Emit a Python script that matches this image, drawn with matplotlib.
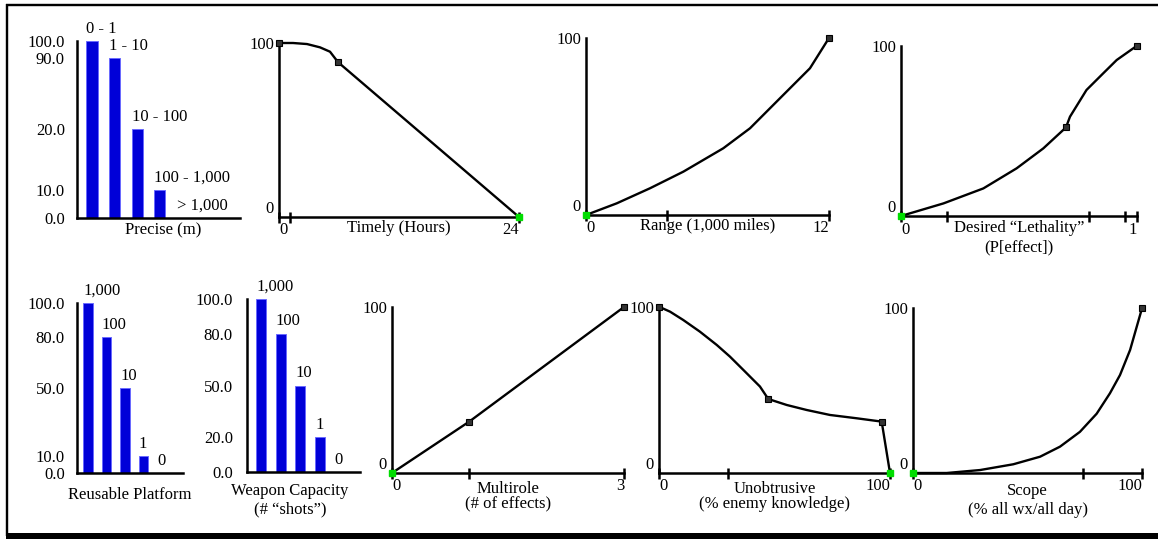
import numpy as np
import matplotlib.pyplot as plt
from matplotlib.lines import Line2D

plt.rcParams['font.family'] = ['Liberation Serif', 'DejaVu Serif']
plt.rcParams['font.size'] = 12

W, H = 1158, 539
PX = 0.72  # points per pixel at dpi 100

# ---------------- data ----------------
precise_cats = ['0 - 1', '1 - 10', '10 - 100', '100 - 1,000', '> 1,000']
precise_vals = [100, 90, 20, 10, 0]

reusable_cats = ['1,000', '100', '10', '1', '0']
reusable_vals = [100, 80, 50, 10, 0]

capacity_cats = ['1,000', '100', '10', '1', '0']
capacity_vals = [100, 80, 50, 20, 0]

timely_x = [0, 1.4, 2.8, 4.1, 5.1, 5.9, 24]
timely_y = [100, 100, 99.4, 97.5, 95, 89, 0]

range_x = [0, 1.52, 3.16, 4.81, 6.78, 8.1, 9.74, 11.06, 12]
range_y = [0, 6.6, 15.1, 24.5, 37.7, 49, 67.8, 82.9, 100]

lethal_x = [0, 0.18, 0.349, 0.49, 0.603, 0.699, 0.716, 0.786, 0.857, 0.914, 1.0]
lethal_y = [0, 7.4, 16.2, 28, 39.7, 52, 58.3, 74, 83.8, 91.6, 100]

multi_x = [0, 1, 3]
multi_y = [0, 31, 100]

unob_x = [0, 4.8, 10.5, 17.7, 25, 30.7, 36.5, 43.7, 47.3, 55.3, 63.9, 74, 85.6, 96.4, 100]
unob_y = [100, 97, 92, 85, 77, 70, 62, 52, 44.5, 40.9, 37.9, 34.9, 32.9, 30.9, 0]

scope_x = [0, 14.7, 29.3, 43.8, 55.5, 64.2, 72.9, 80.2, 86, 90.4, 94.8, 100]
scope_y = [0, 0, 1.8, 5.3, 9.9, 16, 25, 36, 48.4, 59.5, 74.7, 100]

BLUE = '#0000d8'
GREEN = '#00dd00'
LW = 1.8

fig = plt.figure(figsize=(W / 100, H / 100), dpi=100)


def px_axes(x0, x1, ytop, ybot):
    ax = fig.add_axes([x0 / W, 1 - ybot / H, (x1 - x0) / W, (ybot - ytop) / H])
    ax.patch.set_visible(False)
    for s in ['top', 'right']:
        ax.spines[s].set_visible(False)
    for s in ['left', 'bottom']:
        ax.spines[s].set_linewidth(LW)
    return ax


def xlabel_lines(ax, lines, xfrac, first_dy, gap):
    for i, txt in enumerate(lines):
        ax.annotate(txt, xy=(xfrac, 0), xycoords='axes fraction',
                    xytext=(0, -(first_dy + i * gap) * PX), textcoords='offset points',
                    ha='center', va='top')


def bar_panel(box, cats, vals, xlim, width, label_dy, lines, xfrac, first_dy, gap, ypad, scale=None):
    ax = px_axes(*box)
    if scale is not None:
        ax.set_yscale('function', functions=scale)
    x = np.arange(len(cats))
    ax.bar(x, vals, width, color=BLUE, edgecolor='#6a6aff', linewidth=0.7)
    for xi, v, c in zip(x, vals, cats):
        ax.annotate(c, (xi - width / 2, v), xytext=(0, label_dy), textcoords='offset points',
                    ha='left', va='bottom')
    ax.set_xlim(*xlim)
    ax.set_ylim(0, 100)
    ax.set_xticks([])
    ax.set_yticks(vals, [f'{v:.1f}' for v in vals])
    ax.tick_params(axis='y', length=0, pad=ypad * PX)
    xlabel_lines(ax, lines, xfrac, first_dy, gap)
    return ax


def line_panel(box, xs, ys, black, green, xmax, ticks, end_label, lines, first_dy, gap):
    ax = px_axes(*box)
    xs = np.array(xs)
    ys = np.array(ys)
    ax.plot(xs, ys, color='black', lw=1.7, clip_on=False, zorder=3)
    ax.plot(xs[black], ys[black], 's', ms=4, mfc='#333333', mec='black', mew=0.8,
            clip_on=False, zorder=4)
    ax.plot(xs[green], ys[green], 's', ms=5, color=GREEN, clip_on=False, zorder=5)
    ax.set_xlim(0, xmax)
    ax.set_ylim(0, 100)
    labels = ['0'] + [''] * (len(ticks) - 2) + [end_label]
    ax.set_xticks(ticks, labels)
    ax.tick_params(axis='x', direction='inout', length=11 * PX, width=LW, pad=0)
    tl = ax.get_xticklabels()
    tl[0].set_ha('left')
    tl[-1].set_ha('right')
    ax.set_yticks([0, 100], ['0', '100'])
    ax.tick_params(axis='y', length=0, pad=5 * PX)
    ax.get_yticklabels()[0].set_va('bottom')
    xlabel_lines(ax, lines, 0.5, first_dy, gap)
    return ax


# piecewise display scale used by the "Precise" bars
precise_ticks = sorted(precise_vals)
precise_disp = [0, 15.8, 50.3, 90.4, 100]
precise_scale = (lambda v: np.interp(v, precise_ticks, precise_disp),
                 lambda v: np.interp(v, precise_disp, precise_ticks))

# ---------------- top row ----------------
bar_panel((77, 240, 41, 218), precise_cats, precise_vals, (-0.664, 6.55), 0.49, 3,
          ['Precise (m)'], 0.53, 4, 18, 12, scale=precise_scale)

line_panel((279, 519, 43, 217), timely_x, timely_y, [0, 5], [6], 24, [0, 1.1, 24], '24',
           ['Timely (Hours)'], 3, 18)

line_panel((586, 829, 38, 215), range_x, range_y, [8], [0], 12, [0, 4, 12], '12',
           ['Range (1,000 miles)'], 3, 18)

line_panel((901, 1137, 45.7, 216), lethal_x, lethal_y, [5, 10], [0], 1,
           [0, 0.195, 0.797, 0.949, 1], '1',
           ['Desired \u201cLethality\u201d', '(P[effect])'], 4, 19)

# ---------------- bottom row ----------------
bar_panel((77, 183, 302.7, 473), reusable_cats, reusable_vals, (-0.595, 5.14), 0.51, 3,
          ['Reusable Platform'], 0.5, 14, 18, 12)

bar_panel((247, 360, 299, 472), capacity_cats, capacity_vals, (-0.74, 5.05), 0.51, 3,
          ['Weapon Capacity', '(# \u201cshots\u201d)'], 0.38, 11, 18, 14)

line_panel((392, 624, 307, 473), multi_x, multi_y, [1, 2], [0], 3, [0, 1, 3], '3',
           ['Multirole', '(# of effects)'], 8, 15)

line_panel((659, 890, 306.7, 473), unob_x, unob_y, [0, 8, 13], [14], 100, [0, 30, 100], '100',
           ['Unobtrusive', '(% enemy knowledge)'], 8, 15)

line_panel((913, 1142, 308.3, 473), scope_x, scope_y, [11], [0], 100, [0, 74.2, 100], '100',
           ['Scope', '(% all wx/all day)'], 10, 19)

# ---------------- outer frame ----------------
def frame_line(xs, ys, lw):
    fig.add_artist(Line2D([x / W for x in xs], [1 - y / H for y in ys], color='black',
                          lw=lw, transform=fig.transFigure, solid_capstyle='butt'))


frame_line([7, 7], [4, 536], 2.4 * PX)
frame_line([6, W], [5, 5], 2.4 * PX)
frame_line([6, W], [536, 536], 6 * PX)

fig.savefig('out.png', dpi=100)
